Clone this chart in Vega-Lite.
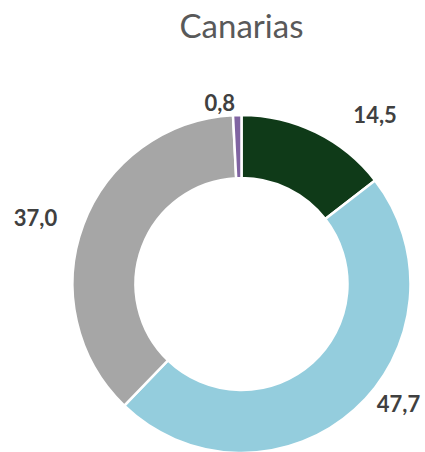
{
  "$schema": "https://vega.github.io/schema/vega-lite/v6.json",
  "width": 367,
  "height": 336,
  "autosize": {"type": "none"},
  "padding": {"left": 58, "top": 116, "right": 0, "bottom": 0},
  "background": "white",
  "title": {
    "text": "Canarias",
    "font": "Lato",
    "fontSize": 33,
    "fontWeight": "normal",
    "color": "#595959",
    "anchor": "middle",
    "frame": "group",
    "offset": 18
  },
  "data": {
    "values": [
      {"cat": "s1", "idx": 1, "value": 14.5, "label": "14,5"},
      {"cat": "s2", "idx": 2, "value": 47.7, "label": "47,7"},
      {"cat": "s3", "idx": 3, "value": 37.0, "label": "37,0"},
      {"cat": "s4", "idx": 4, "value": 0.8, "label": "0,8"}
    ]
  },
  "encoding": {
    "theta": {"field": "value", "type": "quantitative", "stack": true},
    "order": {"field": "idx", "type": "quantitative"}
  },
  "layer": [
    {
      "mark": {"type": "arc", "outerRadius": 169, "innerRadius": 106, "stroke": "white", "strokeWidth": 2.5},
      "encoding": {
        "color": {
          "field": "cat",
          "type": "nominal",
          "scale": {"domain": ["s1", "s2", "s3", "s4"], "range": ["#0f3a18", "#94cddd", "#a6a6a6", "#8064a2"]},
          "legend": null
        }
      }
    },
    {
      "mark": {"type": "text", "radius": 190, "dx": 50, "dy": 3, "font": "Lato", "fontSize": 22, "fontWeight": "bold", "color": "#404040", "align": "center", "baseline": "middle"},
      "encoding": {"text": {"condition": {"test": "datum.cat === 's1'", "field": "label"}, "value": ""}}
    },
    {
      "mark": {"type": "text", "radius": 190, "dx": 30, "dy": -20, "font": "Lato", "fontSize": 22, "fontWeight": "bold", "color": "#404040", "align": "center", "baseline": "middle"},
      "encoding": {"text": {"condition": {"test": "datum.cat === 's2'", "field": "label"}, "value": ""}}
    },
    {
      "mark": {"type": "text", "radius": 190, "dx": -28, "dy": 2, "font": "Lato", "fontSize": 22, "fontWeight": "bold", "color": "#404040", "align": "center", "baseline": "middle"},
      "encoding": {"text": {"condition": {"test": "datum.cat === 's3'", "field": "label"}, "value": ""}}
    },
    {
      "mark": {"type": "text", "radius": 190, "dx": -17, "dy": 10, "font": "Lato", "fontSize": 22, "fontWeight": "bold", "color": "#404040", "align": "center", "baseline": "middle"},
      "encoding": {"text": {"condition": {"test": "datum.cat === 's4'", "field": "label"}, "value": ""}}
    }
  ]
}
